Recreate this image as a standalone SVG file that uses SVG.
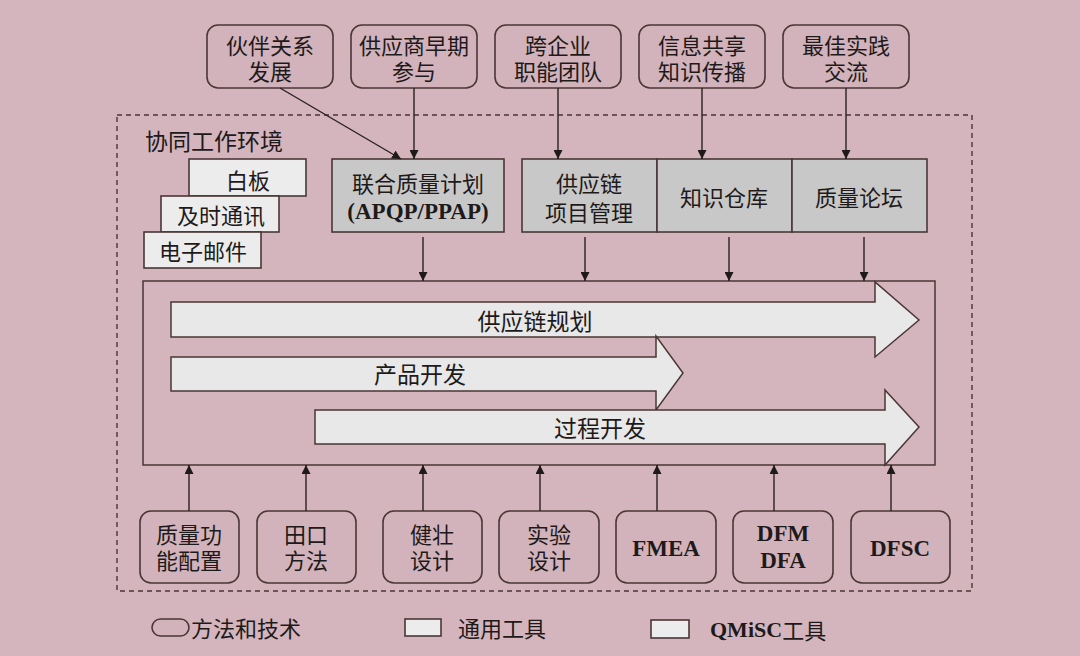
<svg xmlns="http://www.w3.org/2000/svg" width="1080" height="656" viewBox="0 0 1080 656">
<style>
.t{font-family:"Noto Sans CJK SC","Liberation Sans",sans-serif;font-size:22px;fill:#1e1a1a;text-anchor:middle;dominant-baseline:central}
.a{font-size:23px}
.b{font-family:"Liberation Serif","Noto Sans CJK SC",serif;font-size:23px;font-weight:bold;fill:#1e1a1a;text-anchor:middle;dominant-baseline:central}
.rb{fill:#d2b3bb;stroke:#4a3636;stroke-width:1.6}
.wb{fill:#ececec;stroke:#4a3636;stroke-width:1.6}
.gb{fill:#c8c8c8;stroke:#4a3636;stroke-width:1.6}
.ar{fill:#e8e8e8;stroke:#4a3636;stroke-width:1.5}
.cn line{stroke:#2a2020;stroke-width:1.4}
</style>
<defs>
<marker id="ah" viewBox="0 0 10 10" refX="10" refY="5" markerWidth="9" markerHeight="9" markerUnits="userSpaceOnUse" orient="auto">
<path d="M0,0 L10,5 L0,10 z" fill="#1e1a1a"/>
</marker>
</defs>
<rect x="0" y="0" width="1080" height="656" fill="#d4b5bd"/>

<!-- environment -->
<g id="env">
<rect x="117" y="115" width="855" height="476" fill="none" stroke="#4a3636" stroke-width="1.4" stroke-dasharray="5,4"/>
<text class="t a" x="214" y="140">协同工作环境</text>
</g>

<!-- top method boxes -->
<g id="n-partner"><rect class="rb" x="207" y="25" width="126" height="63" rx="11"/><text class="t" x="270" y="44">伙伴关系</text><text class="t" x="270" y="70">发展</text></g>
<g id="n-esi"><rect class="rb" x="351" y="25" width="126" height="63" rx="11"/><text class="t" x="414" y="44">供应商早期</text><text class="t" x="414" y="70">参与</text></g>
<g id="n-team"><rect class="rb" x="495" y="25" width="126" height="63" rx="11"/><text class="t" x="558" y="44">跨企业</text><text class="t" x="558" y="70">职能团队</text></g>
<g id="n-info"><rect class="rb" x="639" y="25" width="126" height="63" rx="11"/><text class="t" x="702" y="44">信息共享</text><text class="t" x="702" y="70">知识传播</text></g>
<g id="n-best"><rect class="rb" x="783" y="25" width="126" height="63" rx="11"/><text class="t" x="846" y="44">最佳实践</text><text class="t" x="846" y="70">交流</text></g>

<!-- general tools -->
<g id="n-whiteboard"><rect class="wb" x="189" y="159" width="117" height="37"/><text class="t" x="248" y="179">白板</text></g>
<g id="n-im"><rect class="wb" x="161" y="196" width="118" height="36"/><text class="t" x="221" y="214">及时通讯</text></g>
<g id="n-email"><rect class="wb" x="144" y="232" width="117" height="36"/><text class="t" x="203" y="250">电子邮件</text></g>

<!-- QMiSC tools -->
<g id="n-apqp"><rect class="gb" x="332" y="159" width="172" height="73"/><text class="t" x="418" y="182">联合质量计划</text><text class="b" x="418" y="211">(APQP/PPAP)</text></g>
<g id="n-scpm"><rect class="gb" x="522" y="159" width="135" height="73"/><text class="t" x="589" y="182">供应链</text><text class="t" x="589" y="211">项目管理</text></g>
<g id="n-kb"><rect class="gb" x="657" y="159" width="135" height="73"/><text class="t" x="724" y="196">知识仓库</text></g>
<g id="n-forum"><rect class="gb" x="792" y="159" width="135" height="73"/><text class="t" x="859" y="196">质量论坛</text></g>

<!-- process area -->
<g id="n-process">
<rect x="143" y="281" width="792" height="184" fill="none" stroke="#4a3636" stroke-width="1.5"/>
<path class="ar" d="M171,302 H875 V282 L919,320 L875,357 V337 H171 Z"/>
<text class="t a" x="535" y="320">供应链规划</text>
<path class="ar" d="M171,357 H656 V336 L683,373 L656,410 V391 H171 Z"/>
<text class="t a" x="420" y="373">产品开发</text>
<path class="ar" d="M315,410 H885 V390 L919,427 L885,465 V444 H315 Z"/>
<text class="t a" x="600" y="427">过程开发</text>
</g>

<!-- bottom methods -->
<g id="n-qfd"><rect class="rb" x="140" y="511" width="99" height="72" rx="11"/><text class="t" x="189" y="533">质量功</text><text class="t" x="189" y="559">能配置</text></g>
<g id="n-taguchi"><rect class="rb" x="257" y="511" width="99" height="72" rx="11"/><text class="t" x="306" y="533">田口</text><text class="t" x="306" y="559">方法</text></g>
<g id="n-robust"><rect class="rb" x="383" y="511" width="99" height="72" rx="11"/><text class="t" x="432" y="533">健壮</text><text class="t" x="432" y="559">设计</text></g>
<g id="n-doe"><rect class="rb" x="499" y="511" width="100" height="72" rx="11"/><text class="t" x="549" y="533">实验</text><text class="t" x="549" y="559">设计</text></g>
<g id="n-fmea"><rect class="rb" x="616" y="511" width="100" height="72" rx="11"/><text class="b" x="666" y="548">FMEA</text></g>
<g id="n-dfm"><rect class="rb" x="733" y="511" width="100" height="72" rx="11"/><text class="b" x="783" y="533">DFM</text><text class="b" x="783" y="560">DFA</text></g>
<g id="n-dfsc"><rect class="rb" x="851" y="511" width="99" height="72" rx="11"/><text class="b" x="900" y="548">DFSC</text></g>

<!-- connectors -->
<g id="connectors" class="cn">
<line x1="280" y1="88" x2="401" y2="159" marker-end="url(#ah)"/>
<line x1="414" y1="88" x2="414" y2="159" marker-end="url(#ah)"/>
<line x1="558" y1="88" x2="558" y2="159" marker-end="url(#ah)"/>
<line x1="702" y1="88" x2="702" y2="159" marker-end="url(#ah)"/>
<line x1="846" y1="88" x2="846" y2="159" marker-end="url(#ah)"/>
<line x1="423" y1="237" x2="423" y2="281" marker-end="url(#ah)"/>
<line x1="585" y1="237" x2="585" y2="281" marker-end="url(#ah)"/>
<line x1="729" y1="237" x2="729" y2="281" marker-end="url(#ah)"/>
<line x1="864" y1="237" x2="864" y2="281" marker-end="url(#ah)"/>
<line x1="189" y1="511" x2="189" y2="465" marker-end="url(#ah)"/>
<line x1="306" y1="511" x2="306" y2="465" marker-end="url(#ah)"/>
<line x1="423" y1="511" x2="423" y2="465" marker-end="url(#ah)"/>
<line x1="540" y1="511" x2="540" y2="465" marker-end="url(#ah)"/>
<line x1="657" y1="511" x2="657" y2="465" marker-end="url(#ah)"/>
<line x1="774" y1="511" x2="774" y2="465" marker-end="url(#ah)"/>
<line x1="891" y1="511" x2="891" y2="465" marker-end="url(#ah)"/>
</g>

<!-- legend -->
<g id="legend">
<rect class="rb" x="152" y="619" width="37" height="17" rx="8.5"/>
<text class="t" x="191" y="627" style="text-anchor:start">方法和技术</text>
<rect class="wb" x="405" y="619" width="36" height="17"/>
<text class="t" x="458" y="627" style="text-anchor:start">通用工具</text>
<rect class="wb" x="651" y="620" width="38" height="18"/>
<text x="710" y="629" style="font-family:'Liberation Serif',serif;font-size:22px;font-weight:bold;fill:#1e1a1a;dominant-baseline:central">QMiSC<tspan style="font-family:'Noto Sans CJK SC',sans-serif;font-weight:normal">工具</tspan></text>
</g>
</svg>
